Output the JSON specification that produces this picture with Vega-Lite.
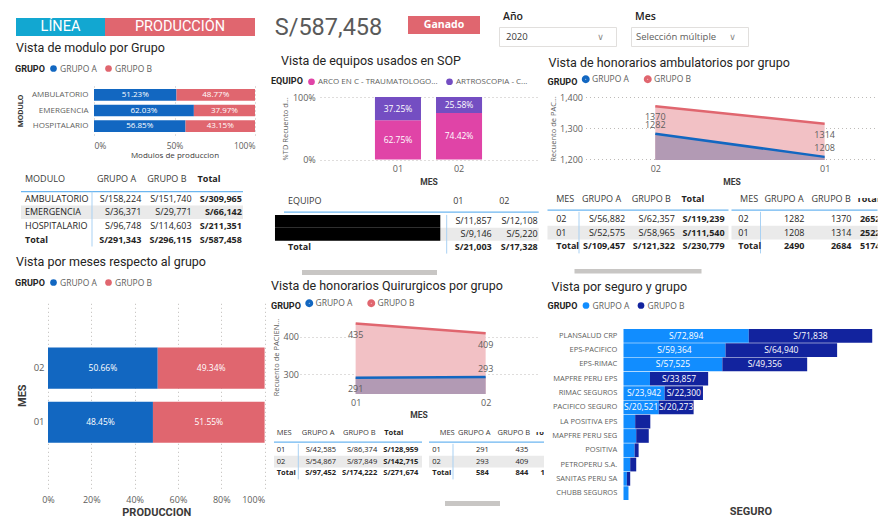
{
"$schema": "https://vega.github.io/schema/vega-lite/v6.json",
"background": "#FFFFFF",
"padding": {"left": 15, "top": 8, "right": 0, "bottom": 0},
"spacing": 6,
"resolve": {"scale": {"color": "independent"}},
"config": {
 "view": {"stroke": null},
 "font": "Open Sans",
 "locale": {"number": {"decimal": ".", "thousands": ",", "grouping": [3], "currency": ["S/", ""]}},
 "axis": {"labelFont": "Open Sans", "labelColor": "#605E5C", "labelFontSize": 8.5, "titleFont": "Open Sans", "titleColor": "#605E5C", "titleFontSize": 8, "titleFontWeight": "normal", "domain": false, "ticks": false, "tickSize": 0, "grid": false, "gridColor": "#BEBBB8", "gridDash": [1, 3]},
 "title": {"anchor": "start", "font": "Roboto", "fontSize": 12.5, "fontWeight": "normal", "color": "#252423"},
 "legend": {"orient": "top", "direction": "horizontal", "titleOrient": "left", "titleFont": "Roboto", "titleFontSize": 9, "titleFontWeight": "bold", "titleColor": "#252423", "labelFont": "Open Sans", "labelFontSize": 8.5, "labelColor": "#605E5C", "symbolType": "circle", "symbolSize": 45, "columnPadding": 7, "labelOffset": 2, "titlePadding": 4, "labelLimit": 300},
 "text": {"font": "Open Sans"}
},
"hconcat": [
 {"spacing": 0, "resolve": {"scale": {"color": "independent"}}, "vconcat": [
  {"width": 1, "height": 10, "data": {"values": []}, "mark": "text", "encoding": {"text": {"value": ""}}},
  {"spacing": 0, "hconcat": [
   {"width": 1, "height": 1, "data": {"values": []}, "mark": "text", "encoding": {"text": {"value": ""}}},
   {"width": 89, "height": 18, "view": {"fill": "#12A7D1"}, "data": {"values": [{"t": "LÍNEA"}]}, "mark": {"type": "text", "font": "Roboto", "fontSize": 14.5, "color": "#FFFFFF"}, "encoding": {"text": {"field": "t", "type": "nominal"}}},
   {"width": 150, "height": 18, "view": {"fill": "#E0666F"}, "data": {"values": [{"t": "PRODUCCIÓN"}]}, "mark": {"type": "text", "font": "Roboto", "fontSize": 14.5, "color": "#FFFFFF"}, "encoding": {"text": {"field": "t", "type": "nominal"}}}
  ]},
  {"width": 1, "height": 6, "data": {"values": []}, "mark": "text", "encoding": {"text": {"value": ""}}},
  {"title": {"text": "Vista de modulo por Grupo", "offset": 9.5, "dx": 1}, "spacing": 0, "hconcat": [
   {"width": 1, "height": 1, "data": {"values": []}, "mark": "text", "encoding": {"text": {"value": ""}}},
   {
   "width": 161, "height": 49,
   "data": {"values": [
    {"MODULO": "AMBULATORIO", "GRUPO": "GRUPO A", "p": 0.5123},
    {"MODULO": "AMBULATORIO", "GRUPO": "GRUPO B", "p": 0.4877},
    {"MODULO": "EMERGENCIA", "GRUPO": "GRUPO A", "p": 0.6203},
    {"MODULO": "EMERGENCIA", "GRUPO": "GRUPO B", "p": 0.3797},
    {"MODULO": "HOSPITALARIO", "GRUPO": "GRUPO A", "p": 0.5685},
    {"MODULO": "HOSPITALARIO", "GRUPO": "GRUPO B", "p": 0.4315}
   ]},
   "layer": [
    {"mark": {"type": "bar"},
     "encoding": {
      "y": {"field": "MODULO", "type": "nominal", "sort": ["AMBULATORIO", "EMERGENCIA", "HOSPITALARIO"], "title": "MODULO", "scale": {"paddingInner": 0.26, "paddingOuter": 0.2}, "axis": {"labelPadding": 6, "titlePadding": 7, "labelFontSize": 8, "titleFont": "Roboto", "titleFontWeight": "bold", "titleFontSize": 8, "titleColor": "#3B3A39"}},
      "x": {"field": "p", "type": "quantitative", "stack": "zero", "title": "Modulos de produccion", "scale": {"domain": [0, 1], "nice": false}, "axis": {"format": "%", "values": [0, 0.5, 1], "grid": true, "labelPadding": 6, "titlePadding": 2, "labelFontSize": 8.5, "titleFontSize": 8, "titleColor": "#3B3A39"}},
      "color": {"field": "GRUPO", "type": "nominal", "scale": {"domain": ["GRUPO A", "GRUPO B"], "range": ["#1267C1", "#E0666F"]}, "legend": {"title": "GRUPO", "offset": 12}},
      "order": {"field": "GRUPO", "type": "nominal", "sort": "ascending"}
     }},
    {"transform": [
      {"stack": "p", "groupby": ["MODULO"], "sort": [{"field": "GRUPO", "order": "ascending"}], "as": ["p0", "p1"]},
      {"fold": ["p0", "p1"], "as": ["k", "pv"]},
      {"aggregate": [{"op": "mean", "field": "pv", "as": "pm"}], "groupby": ["MODULO", "GRUPO", "p"]}
     ],
     "mark": {"type": "text", "color": "#FFFFFF", "fontSize": 8},
     "encoding": {
      "y": {"field": "MODULO", "type": "nominal", "sort": ["AMBULATORIO", "EMERGENCIA", "HOSPITALARIO"], "title": "MODULO"},
      "x": {"field": "pm", "type": "quantitative", "title": "Modulos de produccion", "scale": {"domain": [0, 1], "nice": false}},
      "text": {"field": "p", "type": "quantitative", "format": ".2%"}
     }}
   ]
  }]},
  {"width": 1, "height": 13.5, "data": {"values": []}, "mark": "text", "encoding": {"text": {"value": ""}}},
  {"spacing": 0, "hconcat": [
   {"width": 5, "height": 1, "data": {"values": []}, "mark": "text", "encoding": {"text": {"value": ""}}},
   {
    "width": 222, "height": 68.5,
    "data": {"values": [
     {"f": "h", "c": "MODULO", "t": "MODULO"}, {"f": "h", "c": "GRUPO A", "t": "GRUPO A"}, {"f": "h", "c": "GRUPO B", "t": "GRUPO B"}, {"f": "h", "c": "Total", "t": "Total"},
     {"f": "AMBULATORIO", "c": "MODULO", "t": "AMBULATORIO"}, {"f": "AMBULATORIO", "c": "GRUPO A", "t": "S/158,224"}, {"f": "AMBULATORIO", "c": "GRUPO B", "t": "S/151,740"}, {"f": "AMBULATORIO", "c": "Total", "t": "S/309,965"},
     {"f": "EMERGENCIA", "c": "MODULO", "t": "EMERGENCIA"}, {"f": "EMERGENCIA", "c": "GRUPO A", "t": "S/36,371"}, {"f": "EMERGENCIA", "c": "GRUPO B", "t": "S/29,771"}, {"f": "EMERGENCIA", "c": "Total", "t": "S/66,142"},
     {"f": "HOSPITALARIO", "c": "MODULO", "t": "HOSPITALARIO"}, {"f": "HOSPITALARIO", "c": "GRUPO A", "t": "S/96,748"}, {"f": "HOSPITALARIO", "c": "GRUPO B", "t": "S/114,603"}, {"f": "HOSPITALARIO", "c": "Total", "t": "S/211,351"},
     {"f": "Total", "c": "MODULO", "t": "Total"}, {"f": "Total", "c": "GRUPO A", "t": "S/291,343"}, {"f": "Total", "c": "GRUPO B", "t": "S/296,115"}, {"f": "Total", "c": "Total", "t": "S/587,458"}
    ]},
    "layer": [
     {"transform": [{"filter": "datum.f == 'EMERGENCIA' && datum.c == 'MODULO'"}], "mark": {"type": "rect", "color": "#EAEAEA"},
      "encoding": {"y": {"field": "f", "type": "nominal", "scale": {"domain": ["h", "AMBULATORIO", "EMERGENCIA", "HOSPITALARIO", "Total"], "paddingInner": 0, "paddingOuter": 0}, "axis": null}}},
     {"transform": [{"filter": "datum.f == 'h' && datum.c == 'MODULO'"}], "mark": {"type": "rule", "color": "#6CB6F0", "strokeWidth": 1.2},
      "encoding": {"y": {"field": "f", "type": "nominal", "bandPosition": 1, "scale": {"domain": ["h", "AMBULATORIO", "EMERGENCIA", "HOSPITALARIO", "Total"], "paddingInner": 0, "paddingOuter": 0}, "axis": null}}},
     {"transform": [{"filter": "datum.f == 'h' && datum.c == 'MODULO'"}], "mark": {"type": "rule", "color": "#A9D1F3", "strokeWidth": 1},
      "encoding": {
       "x": {"datum": "GRUPO A", "type": "nominal", "bandPosition": 0, "scale": {"domain": ["GRUPO A", "GRUPO B", "Total"], "range": [71, 221.9], "paddingInner": 0, "paddingOuter": 0}, "axis": null},
       "y": {"datum": "AMBULATORIO", "type": "nominal", "bandPosition": 0, "scale": {"domain": ["h", "AMBULATORIO", "EMERGENCIA", "HOSPITALARIO", "Total"], "paddingInner": 0, "paddingOuter": 0}, "axis": null},
       "y2": {"datum": "Total", "bandPosition": 1}}},
     {"transform": [{"filter": "datum.f == 'h' && datum.c == 'MODULO'"}], "mark": {"type": "text", "align": "left", "dx": -67, "dy": -6, "fontSize": 9, "color": "#3B3A39"},
      "encoding": {
       "x": {"datum": "GRUPO A", "type": "nominal", "bandPosition": 0, "scale": {"domain": ["GRUPO A", "GRUPO B", "Total"], "range": [71, 221.9], "paddingInner": 0, "paddingOuter": 0}, "axis": null},
       "y": {"field": "f", "type": "nominal", "scale": {"domain": ["h", "AMBULATORIO", "EMERGENCIA", "HOSPITALARIO", "Total"], "paddingInner": 0, "paddingOuter": 0}, "axis": null},
       "text": {"field": "t"}}},
     {"transform": [{"filter": "datum.f == 'h' && datum.c != 'MODULO' && datum.c != 'Total'"}], "mark": {"type": "text", "align": "left", "dx": 5, "dy": -6, "fontSize": 9, "color": "#3B3A39"},
      "encoding": {
       "x": {"field": "c", "type": "nominal", "bandPosition": 0, "scale": {"domain": ["GRUPO A", "GRUPO B", "Total"], "range": [71, 221.9], "paddingInner": 0, "paddingOuter": 0}, "axis": null},
       "y": {"field": "f", "type": "nominal", "scale": {"domain": ["h", "AMBULATORIO", "EMERGENCIA", "HOSPITALARIO", "Total"], "paddingInner": 0, "paddingOuter": 0}, "axis": null},
       "text": {"field": "t"}}},
     {"transform": [{"filter": "datum.f == 'h' && datum.c == 'Total'"}], "mark": {"type": "text", "align": "left", "dx": 5, "dy": -6, "fontSize": 9, "fontWeight": "bold", "color": "#252423"},
      "encoding": {
       "x": {"field": "c", "type": "nominal", "bandPosition": 0, "scale": {"domain": ["GRUPO A", "GRUPO B", "Total"], "range": [71, 221.9], "paddingInner": 0, "paddingOuter": 0}, "axis": null},
       "y": {"field": "f", "type": "nominal", "scale": {"domain": ["h", "AMBULATORIO", "EMERGENCIA", "HOSPITALARIO", "Total"], "paddingInner": 0, "paddingOuter": 0}, "axis": null},
       "text": {"field": "t"}}},
     {"transform": [{"filter": "datum.f != 'h' && datum.f != 'Total' && datum.c == 'MODULO'"}], "mark": {"type": "text", "align": "left", "dx": -67, "fontSize": 9, "color": "#252423"},
      "encoding": {
       "x": {"datum": "GRUPO A", "type": "nominal", "bandPosition": 0, "scale": {"domain": ["GRUPO A", "GRUPO B", "Total"], "range": [71, 221.9], "paddingInner": 0, "paddingOuter": 0}, "axis": null},
       "y": {"field": "f", "type": "nominal", "scale": {"domain": ["h", "AMBULATORIO", "EMERGENCIA", "HOSPITALARIO", "Total"], "paddingInner": 0, "paddingOuter": 0}, "axis": null},
       "text": {"field": "t"}}},
     {"transform": [{"filter": "datum.f == 'Total' && datum.c == 'MODULO'"}], "mark": {"type": "text", "align": "left", "dx": -67, "fontSize": 9, "fontWeight": "bold", "color": "#252423"},
      "encoding": {
       "x": {"datum": "GRUPO A", "type": "nominal", "bandPosition": 0, "scale": {"domain": ["GRUPO A", "GRUPO B", "Total"], "range": [71, 221.9], "paddingInner": 0, "paddingOuter": 0}, "axis": null},
       "y": {"field": "f", "type": "nominal", "scale": {"domain": ["h", "AMBULATORIO", "EMERGENCIA", "HOSPITALARIO", "Total"], "paddingInner": 0, "paddingOuter": 0}, "axis": null},
       "text": {"field": "t"}}},
     {"transform": [{"filter": "datum.f != 'h' && datum.f != 'Total' && datum.c != 'MODULO' && datum.c != 'Total'"}], "mark": {"type": "text", "align": "right", "dx": -1, "fontSize": 9, "color": "#252423"},
      "encoding": {
       "x": {"field": "c", "type": "nominal", "bandPosition": 1, "scale": {"domain": ["GRUPO A", "GRUPO B", "Total"], "range": [71, 221.9], "paddingInner": 0, "paddingOuter": 0}, "axis": null},
       "y": {"field": "f", "type": "nominal", "scale": {"domain": ["h", "AMBULATORIO", "EMERGENCIA", "HOSPITALARIO", "Total"], "paddingInner": 0, "paddingOuter": 0}, "axis": null},
       "text": {"field": "t"}}},
     {"transform": [{"filter": "datum.f != 'h' && datum.c != 'MODULO' && (datum.f == 'Total' || datum.c == 'Total')"}], "mark": {"type": "text", "align": "right", "dx": -1, "fontSize": 9, "fontWeight": "bold", "color": "#252423"},
      "encoding": {
       "x": {"field": "c", "type": "nominal", "bandPosition": 1, "scale": {"domain": ["GRUPO A", "GRUPO B", "Total"], "range": [71, 221.9], "paddingInner": 0, "paddingOuter": 0}, "axis": null},
       "y": {"field": "f", "type": "nominal", "scale": {"domain": ["h", "AMBULATORIO", "EMERGENCIA", "HOSPITALARIO", "Total"], "paddingInner": 0, "paddingOuter": 0}, "axis": null},
       "text": {"field": "t"}}}
    ]
   }
  ]},
  {"width": 1, "height": 7.6, "data": {"values": []}, "mark": "text", "encoding": {"text": {"value": ""}}},
  {"title": {"text": "Vista por meses respecto al grupo", "offset": 10, "dx": 1}, "spacing": 0, "hconcat": [
   {"width": 1, "height": 1, "data": {"values": []}, "mark": "text", "encoding": {"text": {"value": ""}}},
   {
   "width": 216.6, "height": 186.3,
   "data": {"values": [
    {"MES": "02", "GRUPO": "GRUPO A", "p": 0.5066}, {"MES": "02", "GRUPO": "GRUPO B", "p": 0.4934},
    {"MES": "01", "GRUPO": "GRUPO A", "p": 0.4845}, {"MES": "01", "GRUPO": "GRUPO B", "p": 0.5155}
   ]},
   "layer": [
    {"mark": {"type": "bar"},
     "encoding": {
      "y": {"field": "MES", "type": "nominal", "sort": ["02", "01"], "title": "MES", "scale": {"paddingInner": 0.24, "paddingOuter": 0.84}, "axis": {"labelPadding": 4, "titlePadding": 6, "labelFontSize": 9.5, "titleFont": "Roboto", "titleFontSize": 11, "titleFontWeight": "bold", "titleColor": "#3B3A39"}},
      "x": {"field": "p", "type": "quantitative", "stack": "zero", "title": "PRODUCCION", "scale": {"domain": [0, 1], "nice": false}, "axis": {"format": "%", "values": [0, 0.2, 0.4, 0.6, 0.8, 1], "grid": true, "labelPadding": 6.8, "titlePadding": 2, "labelFontSize": 9, "titleFont": "Roboto", "titleFontSize": 11, "titleFontWeight": "bold", "titleColor": "#3B3A39", "labelAlign": {"condition": {"test": "datum.value == 1", "value": "right"}, "value": "center"}}},
      "color": {"field": "GRUPO", "type": "nominal", "scale": {"domain": ["GRUPO A", "GRUPO B"], "range": ["#1267C1", "#E0666F"]}, "legend": {"title": "GRUPO", "offset": 14.4}},
      "order": {"field": "GRUPO", "type": "nominal", "sort": "ascending"}
     }},
    {"transform": [
      {"stack": "p", "groupby": ["MES"], "sort": [{"field": "GRUPO", "order": "ascending"}], "as": ["p0", "p1"]},
      {"fold": ["p0", "p1"], "as": ["k", "pv"]},
      {"aggregate": [{"op": "mean", "field": "pv", "as": "pm"}], "groupby": ["MES", "GRUPO", "p"]}
     ],
     "mark": {"type": "text", "color": "#FFFFFF", "fontSize": 8.5},
     "encoding": {
      "y": {"field": "MES", "type": "nominal", "sort": ["02", "01"], "title": "MES"},
      "x": {"field": "pm", "type": "quantitative", "title": "PRODUCCION", "scale": {"domain": [0, 1], "nice": false}},
      "text": {"field": "p", "type": "quantitative", "format": ".2%"}
     }}
   ]
  }]}
 ]},
 {"spacing": 0, "resolve": {"scale": {"color": "independent"}}, "vconcat": [
  {"spacing": 0, "hconcat": [
   {"width": 115, "height": 40, "data": {"values": [{"v": 587458}]}, "mark": {"type": "text", "font": "Roboto", "fontSize": 23.5, "color": "#5A5A5A"}, "encoding": {"text": {"field": "v", "type": "quantitative", "format": "$,.0f"}}},
   {"width": 22, "height": 1, "data": {"values": []}, "mark": "text", "encoding": {"text": {"value": ""}}},
   {"spacing": 0, "vconcat": [
    {"width": 1, "height": 8, "data": {"values": []}, "mark": "text", "encoding": {"text": {"value": ""}}},
    {"width": 72, "height": 18, "view": {"fill": "#E0666F"}, "data": {"values": [{"t": "Ganado"}]}, "mark": {"type": "text", "color": "#FFFFFF", "fontSize": 10.5, "fontWeight": "bold", "font": "Open Sans"}, "encoding": {"text": {"field": "t", "type": "nominal"}}}
   ]},
   {"width": 18, "height": 1, "data": {"values": []}, "mark": "text", "encoding": {"text": {"value": ""}}},
   {"spacing": 0, "vconcat": [
    {"width": 1, "height": 3, "data": {"values": []}, "mark": "text", "encoding": {"text": {"value": ""}}},
    {"title": {"text": "Año", "font": "Open Sans", "fontSize": 10.5, "fontWeight": 600, "color": "#252423", "offset": 5, "dx": 4},
    "width": 117, "height": 19, "view": {"stroke": "#E1DFDD", "fill": "#FFFFFF"},
    "data": {"values": [{"k": "valor", "t": "2020"}, {"k": "flecha", "t": "∨"}]},
    "layer": [
     {"transform": [{"filter": "datum.k == 'valor'"}], "mark": {"type": "text", "align": "left", "dx": -51.5, "fontSize": 9.5, "color": "#3B3A39"}, "encoding": {"text": {"field": "t", "type": "nominal"}}},
     {"transform": [{"filter": "datum.k == 'flecha'"}], "mark": {"type": "text", "dx": 43, "fontSize": 9, "font": "DejaVu Sans", "color": "#8A8886"}, "encoding": {"text": {"field": "t", "type": "nominal"}}}
    ]}]},
   {"width": 13, "height": 1, "data": {"values": []}, "mark": "text", "encoding": {"text": {"value": ""}}},
   {"spacing": 0, "vconcat": [
    {"width": 1, "height": 3, "data": {"values": []}, "mark": "text", "encoding": {"text": {"value": ""}}},
    {"title": {"text": "Mes", "font": "Open Sans", "fontSize": 10.5, "fontWeight": 600, "color": "#252423", "offset": 5, "dx": 4},
    "width": 117, "height": 19, "view": {"stroke": "#E1DFDD", "fill": "#FFFFFF"},
    "data": {"values": [{"k": "valor", "t": "Selección múltiple"}, {"k": "flecha", "t": "∨"}]},
    "layer": [
     {"transform": [{"filter": "datum.k == 'valor'"}], "mark": {"type": "text", "align": "left", "dx": -53.5, "fontSize": 9.5, "color": "#605E5C"}, "encoding": {"text": {"field": "t", "type": "nominal"}}},
     {"transform": [{"filter": "datum.k == 'flecha'"}], "mark": {"type": "text", "dx": 43, "fontSize": 9, "font": "DejaVu Sans", "color": "#8A8886"}, "encoding": {"text": {"field": "t", "type": "nominal"}}}
    ]}]}
  ]},
  {"width": 1, "height": 6.9, "data": {"values": []}, "mark": "text", "encoding": {"text": {"value": ""}}},
  {"spacing": 1.5, "resolve": {"scale": {"color": "independent"}}, "hconcat": [
   {"spacing": 0, "resolve": {"scale": {"color": "independent"}}, "vconcat": [
    {"title": {"text": "Vista de equipos usados en SOP", "offset": 9.5, "dx": 10}, "spacing": 0, "hconcat": [
     {"width": 10, "height": 1, "data": {"values": []}, "mark": "text", "encoding": {"text": {"value": ""}}},
     {"hconcat": [{
      "width": 217, "height": 62.6,
      "data": {"values": [
       {"MES": "01", "EQUIPO": "ARCO EN C - TRAUMATOLOGO...", "p": 0.6275},
       {"MES": "01", "EQUIPO": "ARTROSCOPIA - C...", "p": 0.3725},
       {"MES": "02", "EQUIPO": "ARCO EN C - TRAUMATOLOGO...", "p": 0.7442},
       {"MES": "02", "EQUIPO": "ARTROSCOPIA - C...", "p": 0.2558}
      ]},
      "layer": [
       {"mark": {"type": "bar"},
        "encoding": {
         "x": {"field": "MES", "type": "nominal", "title": "MES", "scale": {"paddingInner": 0.246, "paddingOuter": 0.9}, "axis": {"labelAngle": 0, "labelPadding": 4.7, "titlePadding": 4, "labelFontSize": 9, "titleFont": "Roboto", "titleFontWeight": "bold", "titleFontSize": 8.5, "titleColor": "#3B3A39"}},
         "y": {"field": "p", "type": "quantitative", "stack": "zero", "title": "%TD Recuento d...", "scale": {"domain": [0, 1], "nice": false}, "axis": {"format": "%", "values": [0, 0.5, 1], "grid": true, "labelPadding": 4.7, "titlePadding": 3, "labelFontSize": 9, "titleFontSize": 7.5}},
         "color": {"field": "EQUIPO", "type": "nominal", "scale": {"domain": ["ARCO EN C - TRAUMATOLOGO...", "ARTROSCOPIA - C..."], "range": ["#E044A7", "#744EC2"]}, "legend": {"title": "EQUIPO", "offset": 6.8, "labelFontSize": 8}},
         "order": {"field": "EQUIPO", "type": "nominal", "sort": "ascending"}
        }},
       {"transform": [
         {"stack": "p", "groupby": ["MES"], "sort": [{"field": "EQUIPO", "order": "ascending"}], "as": ["p0", "p1"]},
         {"fold": ["p0", "p1"], "as": ["k", "pv"]},
         {"aggregate": [{"op": "mean", "field": "pv", "as": "pm"}], "groupby": ["MES", "EQUIPO", "p"]}
        ],
        "mark": {"type": "text", "color": "#FFFFFF", "fontSize": 8.5},
        "encoding": {
         "x": {"field": "MES", "type": "nominal", "title": "MES"},
         "y": {"field": "pm", "type": "quantitative", "title": "%TD Recuento d...", "scale": {"domain": [0, 1], "nice": false}},
         "text": {"field": "p", "type": "quantitative", "format": ".2%"}
        }}
      ]
     }]}
    ]},
    {"width": 1, "height": 10, "data": {"values": []}, "mark": "text", "encoding": {"text": {"value": ""}}},
    {"spacing": 0, "hconcat": [
     {"width": 3, "height": 1, "data": {"values": []}, "mark": "text", "encoding": {"text": {"value": ""}}},
     {
      "width": 254.7, "height": 51.6,
      "data": {"values": [
       {"f": "h", "c": "EQUIPO", "t": "EQUIPO"}, {"f": "h", "c": "01", "t": "01"}, {"f": "h", "c": "02", "t": "02"},
       {"f": "r1", "c": "EQUIPO", "t": ""}, {"f": "r1", "c": "01", "t": "S/11,857"}, {"f": "r1", "c": "02", "t": "S/12,108"},
       {"f": "r2", "c": "EQUIPO", "t": ""}, {"f": "r2", "c": "01", "t": "S/9,146"}, {"f": "r2", "c": "02", "t": "S/5,220"},
       {"f": "Total", "c": "EQUIPO", "t": "Total"}, {"f": "Total", "c": "01", "t": "S/21,003"}, {"f": "Total", "c": "02", "t": "S/17,328"}
      ]},
      "layer": [
       {"transform": [{"filter": "datum.f == 'r2' && datum.c == 'EQUIPO'"}], "mark": {"type": "rect", "color": "#EAEAEA"},
        "encoding": {"y": {"field": "f", "type": "nominal", "scale": {"domain": ["h", "r1", "r2", "Total"], "paddingInner": 0, "paddingOuter": 0}, "axis": null}}},
       {"transform": [{"filter": "datum.f == 'h' && datum.c == 'EQUIPO'"}], "mark": {"type": "rule", "color": "#6CB6F0", "strokeWidth": 1.2},
        "encoding": {"y": {"field": "f", "type": "nominal", "bandPosition": 0.78, "scale": {"domain": ["h", "r1", "r2", "Total"], "paddingInner": 0, "paddingOuter": 0}, "axis": null}}},
       {"transform": [{"filter": "datum.f == 'h' && datum.c == 'EQUIPO'"}], "mark": {"type": "rule", "color": "#A9D1F3", "strokeWidth": 1},
        "encoding": {
         "x": {"datum": "01", "type": "nominal", "bandPosition": 0, "scale": {"domain": ["01", "02"], "range": [162.7, 254.7], "paddingInner": 0, "paddingOuter": 0}, "axis": null},
         "y": {"datum": "r1", "type": "nominal", "bandPosition": 0, "scale": {"domain": ["h", "r1", "r2", "Total"], "paddingInner": 0, "paddingOuter": 0}, "axis": null},
         "y2": {"datum": "Total", "bandPosition": 1}}},
       {"transform": [{"filter": "(datum.f == 'r1' || datum.f == 'r2') && datum.c == 'EQUIPO'"}], "mark": {"type": "rect", "color": "#000000", "x2Offset": -29.4},
        "encoding": {
         "x": {"datum": "01", "type": "nominal", "bandPosition": -3.733, "scale": {"domain": ["01", "02"], "range": [162.7, 254.7], "paddingInner": 0, "paddingOuter": 0}, "axis": null},
         "x2": {"datum": "01"},
         "y": {"field": "f", "type": "nominal", "scale": {"domain": ["h", "r1", "r2", "Total"], "paddingInner": 0, "paddingOuter": 0}, "axis": null}}},
       {"transform": [{"filter": "datum.f == 'h' && datum.c == 'EQUIPO'"}], "mark": {"type": "text", "align": "left", "dx": -158.7, "dy": -7.8, "fontSize": 9, "color": "#3B3A39"},
        "encoding": {
         "x": {"datum": "01", "type": "nominal", "bandPosition": 0, "scale": {"domain": ["01", "02"], "range": [162.7, 254.7], "paddingInner": 0, "paddingOuter": 0}, "axis": null},
         "y": {"field": "f", "type": "nominal", "scale": {"domain": ["h", "r1", "r2", "Total"], "paddingInner": 0, "paddingOuter": 0}, "axis": null},
         "text": {"field": "t"}}},
       {"transform": [{"filter": "datum.f == 'h' && datum.c != 'EQUIPO'"}], "mark": {"type": "text", "align": "left", "dx": 6.5, "dy": -7.8, "fontSize": 9, "color": "#3B3A39"},
        "encoding": {
         "x": {"field": "c", "type": "nominal", "bandPosition": 0, "scale": {"domain": ["01", "02"], "range": [162.7, 254.7], "paddingInner": 0, "paddingOuter": 0}, "axis": null},
         "y": {"field": "f", "type": "nominal", "scale": {"domain": ["h", "r1", "r2", "Total"], "paddingInner": 0, "paddingOuter": 0}, "axis": null},
         "text": {"field": "t"}}},
       {"transform": [{"filter": "datum.f == 'Total' && datum.c == 'EQUIPO'"}], "mark": {"type": "text", "align": "left", "dx": -158.7, "fontSize": 9, "fontWeight": "bold", "color": "#252423"},
        "encoding": {
         "x": {"datum": "01", "type": "nominal", "bandPosition": 0, "scale": {"domain": ["01", "02"], "range": [162.7, 254.7], "paddingInner": 0, "paddingOuter": 0}, "axis": null},
         "y": {"field": "f", "type": "nominal", "scale": {"domain": ["h", "r1", "r2", "Total"], "paddingInner": 0, "paddingOuter": 0}, "axis": null},
         "text": {"field": "t"}}},
       {"transform": [{"filter": "datum.f != 'h' && datum.f != 'Total' && datum.c != 'EQUIPO'"}], "mark": {"type": "text", "align": "right", "dx": -1, "fontSize": 9, "color": "#252423"},
        "encoding": {
         "x": {"field": "c", "type": "nominal", "bandPosition": 1, "scale": {"domain": ["01", "02"], "range": [162.7, 254.7], "paddingInner": 0, "paddingOuter": 0}, "axis": null},
         "y": {"field": "f", "type": "nominal", "scale": {"domain": ["h", "r1", "r2", "Total"], "paddingInner": 0, "paddingOuter": 0}, "axis": null},
         "text": {"field": "t"}}},
       {"transform": [{"filter": "datum.f == 'Total' && datum.c != 'EQUIPO'"}], "mark": {"type": "text", "align": "right", "dx": -1, "fontSize": 9, "fontWeight": "bold", "color": "#252423"},
        "encoding": {
         "x": {"field": "c", "type": "nominal", "bandPosition": 1, "scale": {"domain": ["01", "02"], "range": [162.7, 254.7], "paddingInner": 0, "paddingOuter": 0}, "axis": null},
         "y": {"field": "f", "type": "nominal", "scale": {"domain": ["h", "r1", "r2", "Total"], "paddingInner": 0, "paddingOuter": 0}, "axis": null},
         "text": {"field": "t"}}}
      ]
     }
    ]},
    {"width": 1, "height": 14.5, "data": {"values": []}, "mark": "text", "encoding": {"text": {"value": ""}}},
    {"spacing": 0, "hconcat": [
     {"width": 31, "height": 1, "data": {"values": []}, "mark": "text", "encoding": {"text": {"value": ""}}},
     {"width": 135, "height": 5, "view": {"fill": "#C8C6C4"}, "data": {"values": []}, "mark": "text", "encoding": {"text": {"value": ""}}}
    ]},
    {"width": 1, "height": 3.75, "data": {"values": []}, "mark": "text", "encoding": {"text": {"value": ""}}},
    {"title": {"text": "Vista de honorarios Quirurgicos por grupo", "offset": 6.8}, "spacing": 0, "hconcat": [
     {"width": 1, "height": 1, "data": {"values": []}, "mark": "text", "encoding": {"text": {"value": ""}}},
     {
     "width": 237, "height": 74,
     "data": {"values": [
      {"MES": "01", "GRUPO": "GRUPO A", "n": 291}, {"MES": "02", "GRUPO": "GRUPO A", "n": 293},
      {"MES": "01", "GRUPO": "GRUPO B", "n": 435}, {"MES": "02", "GRUPO": "GRUPO B", "n": 409}
     ]},
     "encoding": {
      "x": {"field": "MES", "type": "ordinal", "sort": ["01", "02"], "title": "MES", "scale": {"type": "point", "padding": 0.4115, "align": 0.52}, "axis": {"labelAngle": 0, "labelPadding": 4, "titlePadding": 3.5, "labelFontSize": 9, "titleFont": "Roboto", "titleFontWeight": "bold", "titleFontSize": 8.5, "titleColor": "#3B3A39"}},
      "y": {"field": "n", "type": "quantitative", "title": "Recuento de PACIEN...", "scale": {"domain": [247.6, 444], "nice": false, "zero": false}, "axis": {"values": [300, 400], "format": "d", "grid": true, "labelPadding": 1.5, "titlePadding": 2.5, "labelFontSize": 9, "titleFontSize": 7.5}}
     },
     "layer": [
      {"transform": [{"filter": "datum.GRUPO == 'GRUPO B'"}], "mark": {"type": "area", "color": "#F2C1C5", "opacity": 1}, "encoding": {"y2": {"datum": 247.6}}},
      {"transform": [{"filter": "datum.GRUPO == 'GRUPO A'"}], "mark": {"type": "area", "color": "#B29AB4", "opacity": 1}, "encoding": {"y2": {"datum": 247.6}}},
      {"mark": {"type": "line", "strokeWidth": 2.5},
       "encoding": {"color": {"field": "GRUPO", "type": "nominal", "scale": {"domain": ["GRUPO A", "GRUPO B"], "range": ["#1267C1", "#E0666F"]}, "legend": {"title": "GRUPO", "offset": 3.7, "symbolSize": 12, "symbolStrokeWidth": 4.5}}}},
      {"transform": [{"filter": "datum.GRUPO == 'GRUPO B' || datum.MES == '01'"}], "mark": {"type": "text", "dy": 11.5, "fontSize": 9, "color": "#605E5C"}, "encoding": {"text": {"field": "n", "type": "quantitative", "format": "d"}}},
      {"transform": [{"filter": "datum.GRUPO == 'GRUPO A' && datum.MES == '02'"}], "mark": {"type": "text", "dy": -8, "fontSize": 9, "color": "#605E5C"}, "encoding": {"text": {"field": "n", "type": "quantitative", "format": "d"}}}
     ]
    }]},
    {"width": 1, "height": 8.9, "data": {"values": []}, "mark": "text", "encoding": {"text": {"value": ""}}},
    {"spacing": 0, "hconcat": [
     {"width": 2, "height": 1, "data": {"values": []}, "mark": "text", "encoding": {"text": {"value": ""}}},
     {
      "width": 148, "height": 47.4,
      "data": {"values": [
       {"f": "h", "c": "MES", "t": "MES"}, {"f": "h", "c": "GRUPO A", "t": "GRUPO A"}, {"f": "h", "c": "GRUPO B", "t": "GRUPO B"}, {"f": "h", "c": "Total", "t": "Total"},
       {"f": "01", "c": "MES", "t": "01"}, {"f": "01", "c": "GRUPO A", "t": "S/42,585"}, {"f": "01", "c": "GRUPO B", "t": "S/86,374"}, {"f": "01", "c": "Total", "t": "S/128,959"},
       {"f": "02", "c": "MES", "t": "02"}, {"f": "02", "c": "GRUPO A", "t": "S/54,867"}, {"f": "02", "c": "GRUPO B", "t": "S/87,849"}, {"f": "02", "c": "Total", "t": "S/142,715"},
       {"f": "Total", "c": "MES", "t": "Total"}, {"f": "Total", "c": "GRUPO A", "t": "S/97,452"}, {"f": "Total", "c": "GRUPO B", "t": "S/174,222"}, {"f": "Total", "c": "Total", "t": "S/271,674"}
      ]},
      "layer": [
       {"transform": [{"filter": "datum.f == '02' && datum.c == 'MES'"}], "mark": {"type": "rect", "color": "#EAEAEA"},
        "encoding": {"y": {"field": "f", "type": "nominal", "scale": {"domain": ["h", "01", "02", "Total"], "paddingInner": 0, "paddingOuter": 0}, "axis": null}}},
       {"transform": [{"filter": "datum.f == 'h' && datum.c == 'MES'"}], "mark": {"type": "rule", "color": "#6CB6F0", "strokeWidth": 1.2},
        "encoding": {"y": {"field": "f", "type": "nominal", "bandPosition": 0.86, "scale": {"domain": ["h", "01", "02", "Total"], "paddingInner": 0, "paddingOuter": 0}, "axis": null}}},
       {"transform": [{"filter": "datum.f == 'h' && datum.c == 'MES'"}], "mark": {"type": "rule", "color": "#A9D1F3", "strokeWidth": 1},
        "encoding": {
         "x": {"datum": "GRUPO A", "type": "nominal", "bandPosition": 0, "scale": {"domain": ["GRUPO A", "GRUPO B", "Total"], "range": [24.3, 147.9], "paddingInner": 0, "paddingOuter": 0}, "axis": null},
         "y": {"datum": "01", "type": "nominal", "bandPosition": 0, "scale": {"domain": ["h", "01", "02", "Total"], "paddingInner": 0, "paddingOuter": 0}, "axis": null},
         "y2": {"datum": "Total", "bandPosition": 1}}},
       {"transform": [{"filter": "datum.f == 'h' && datum.c == 'MES'"}], "mark": {"type": "text", "align": "left", "dx": -21.6, "dy": -5.2, "fontSize": 7.5, "color": "#3B3A39"},
        "encoding": {
         "x": {"datum": "GRUPO A", "type": "nominal", "bandPosition": 0, "scale": {"domain": ["GRUPO A", "GRUPO B", "Total"], "range": [24.3, 147.9], "paddingInner": 0, "paddingOuter": 0}, "axis": null},
         "y": {"field": "f", "type": "nominal", "scale": {"domain": ["h", "01", "02", "Total"], "paddingInner": 0, "paddingOuter": 0}, "axis": null},
         "text": {"field": "t"}}},
       {"transform": [{"filter": "datum.f == 'h' && datum.c != 'MES' && datum.c != 'Total'"}], "mark": {"type": "text", "align": "left", "dx": 3.5, "dy": -5.2, "fontSize": 7.5, "color": "#3B3A39"},
        "encoding": {
         "x": {"field": "c", "type": "nominal", "bandPosition": 0, "scale": {"domain": ["GRUPO A", "GRUPO B", "Total"], "range": [24.3, 147.9], "paddingInner": 0, "paddingOuter": 0}, "axis": null},
         "y": {"field": "f", "type": "nominal", "scale": {"domain": ["h", "01", "02", "Total"], "paddingInner": 0, "paddingOuter": 0}, "axis": null},
         "text": {"field": "t"}}},
       {"transform": [{"filter": "datum.f == 'h' && datum.c == 'Total'"}], "mark": {"type": "text", "align": "left", "dx": 3.5, "dy": -5.2, "fontSize": 7.5, "fontWeight": "bold", "color": "#252423"},
        "encoding": {
         "x": {"field": "c", "type": "nominal", "bandPosition": 0, "scale": {"domain": ["GRUPO A", "GRUPO B", "Total"], "range": [24.3, 147.9], "paddingInner": 0, "paddingOuter": 0}, "axis": null},
         "y": {"field": "f", "type": "nominal", "scale": {"domain": ["h", "01", "02", "Total"], "paddingInner": 0, "paddingOuter": 0}, "axis": null},
         "text": {"field": "t"}}},
       {"transform": [{"filter": "datum.f != 'h' && datum.f != 'Total' && datum.c == 'MES'"}], "mark": {"type": "text", "align": "left", "dx": -21.6, "fontSize": 7.5, "color": "#252423"},
        "encoding": {
         "x": {"datum": "GRUPO A", "type": "nominal", "bandPosition": 0, "scale": {"domain": ["GRUPO A", "GRUPO B", "Total"], "range": [24.3, 147.9], "paddingInner": 0, "paddingOuter": 0}, "axis": null},
         "y": {"field": "f", "type": "nominal", "scale": {"domain": ["h", "01", "02", "Total"], "paddingInner": 0, "paddingOuter": 0}, "axis": null},
         "text": {"field": "t"}}},
       {"transform": [{"filter": "datum.f == 'Total' && datum.c == 'MES'"}], "mark": {"type": "text", "align": "left", "dx": -21.6, "fontSize": 7.5, "fontWeight": "bold", "color": "#252423"},
        "encoding": {
         "x": {"datum": "GRUPO A", "type": "nominal", "bandPosition": 0, "scale": {"domain": ["GRUPO A", "GRUPO B", "Total"], "range": [24.3, 147.9], "paddingInner": 0, "paddingOuter": 0}, "axis": null},
         "y": {"field": "f", "type": "nominal", "scale": {"domain": ["h", "01", "02", "Total"], "paddingInner": 0, "paddingOuter": 0}, "axis": null},
         "text": {"field": "t"}}},
       {"transform": [{"filter": "datum.f != 'h' && datum.f != 'Total' && datum.c != 'MES' && datum.c != 'Total'"}], "mark": {"type": "text", "align": "right", "dx": -3.5, "fontSize": 7.5, "color": "#252423"},
        "encoding": {
         "x": {"field": "c", "type": "nominal", "bandPosition": 1, "scale": {"domain": ["GRUPO A", "GRUPO B", "Total"], "range": [24.3, 147.9], "paddingInner": 0, "paddingOuter": 0}, "axis": null},
         "y": {"field": "f", "type": "nominal", "scale": {"domain": ["h", "01", "02", "Total"], "paddingInner": 0, "paddingOuter": 0}, "axis": null},
         "text": {"field": "t"}}},
       {"transform": [{"filter": "datum.f != 'h' && datum.c != 'MES' && (datum.f == 'Total' || datum.c == 'Total')"}], "mark": {"type": "text", "align": "right", "dx": -3.5, "fontSize": 7.5, "fontWeight": "bold", "color": "#252423"},
        "encoding": {
         "x": {"field": "c", "type": "nominal", "bandPosition": 1, "scale": {"domain": ["GRUPO A", "GRUPO B", "Total"], "range": [24.3, 147.9], "paddingInner": 0, "paddingOuter": 0}, "axis": null},
         "y": {"field": "f", "type": "nominal", "scale": {"domain": ["h", "01", "02", "Total"], "paddingInner": 0, "paddingOuter": 0}, "axis": null},
         "text": {"field": "t"}}}
      ]
     },
     {"width": 5, "height": 1, "data": {"values": []}, "mark": "text", "encoding": {"text": {"value": ""}}},
     {
      "width": 115, "height": 47.4,
      "data": {"values": [
       {"f": "h", "c": "MES", "t": "MES"}, {"f": "h", "c": "GRUPO A", "t": "GRUPO A"}, {"f": "h", "c": "GRUPO B", "t": "GRUPO B"}, {"f": "h", "c": "Total", "t": "Total"},
       {"f": "01", "c": "MES", "t": "01"}, {"f": "01", "c": "GRUPO A", "t": "291"}, {"f": "01", "c": "GRUPO B", "t": "435"}, {"f": "01", "c": "Total", "t": "726"},
       {"f": "02", "c": "MES", "t": "02"}, {"f": "02", "c": "GRUPO A", "t": "293"}, {"f": "02", "c": "GRUPO B", "t": "409"}, {"f": "02", "c": "Total", "t": "702"},
       {"f": "Total", "c": "MES", "t": "Total"}, {"f": "Total", "c": "GRUPO A", "t": "584"}, {"f": "Total", "c": "GRUPO B", "t": "844"}, {"f": "Total", "c": "Total", "t": "1428"}
      ]},
      "layer": [
       {"transform": [{"filter": "datum.f == '02' && datum.c == 'MES'"}], "mark": {"type": "rect", "color": "#EAEAEA"},
        "encoding": {"y": {"field": "f", "type": "nominal", "scale": {"domain": ["h", "01", "02", "Total"], "paddingInner": 0, "paddingOuter": 0}, "axis": null}}},
       {"transform": [{"filter": "datum.f == 'h' && datum.c == 'MES'"}], "mark": {"type": "rule", "color": "#6CB6F0", "strokeWidth": 1.2},
        "encoding": {"y": {"field": "f", "type": "nominal", "bandPosition": 0.86, "scale": {"domain": ["h", "01", "02", "Total"], "paddingInner": 0, "paddingOuter": 0}, "axis": null}}},
       {"transform": [{"filter": "datum.f == 'h' && datum.c == 'MES'"}], "mark": {"type": "rule", "color": "#A9D1F3", "strokeWidth": 1},
        "encoding": {
         "x": {"datum": "GRUPO A", "type": "nominal", "bandPosition": 0, "scale": {"domain": ["GRUPO A", "GRUPO B"], "range": [24, 103], "paddingInner": 0, "paddingOuter": 0}, "axis": null},
         "y": {"datum": "01", "type": "nominal", "bandPosition": 0, "scale": {"domain": ["h", "01", "02", "Total"], "paddingInner": 0, "paddingOuter": 0}, "axis": null},
         "y2": {"datum": "Total", "bandPosition": 1}}},
       {"transform": [{"filter": "datum.f == 'h' && datum.c == 'MES'"}], "mark": {"type": "text", "align": "left", "dx": -13.3, "dy": -5.2, "fontSize": 7.5, "color": "#3B3A39"},
        "encoding": {
         "x": {"datum": "GRUPO A", "type": "nominal", "bandPosition": 0, "scale": {"domain": ["GRUPO A", "GRUPO B"], "range": [24, 103], "paddingInner": 0, "paddingOuter": 0}, "axis": null},
         "y": {"field": "f", "type": "nominal", "scale": {"domain": ["h", "01", "02", "Total"], "paddingInner": 0, "paddingOuter": 0}, "axis": null},
         "text": {"field": "t"}}},
       {"transform": [{"filter": "datum.f == 'h' && datum.c != 'MES' && datum.c != 'Total'"}], "mark": {"type": "text", "align": "left", "dx": 5, "dy": -5.2, "fontSize": 7.5, "color": "#3B3A39"},
        "encoding": {
         "x": {"field": "c", "type": "nominal", "bandPosition": 0, "scale": {"domain": ["GRUPO A", "GRUPO B"], "range": [24, 103], "paddingInner": 0, "paddingOuter": 0}, "axis": null},
         "y": {"field": "f", "type": "nominal", "scale": {"domain": ["h", "01", "02", "Total"], "paddingInner": 0, "paddingOuter": 0}, "axis": null},
         "text": {"field": "t"}}},
       {"transform": [{"filter": "datum.f == 'h' && datum.c == 'Total'"}], "mark": {"type": "text", "align": "left", "dx": 3, "dy": -5.2, "fontSize": 7.5, "fontWeight": "bold", "color": "#252423", "clip": true},
        "encoding": {
         "x": {"datum": "GRUPO B", "type": "nominal", "bandPosition": 1, "scale": {"domain": ["GRUPO A", "GRUPO B"], "range": [24, 103], "paddingInner": 0, "paddingOuter": 0}, "axis": null},
         "y": {"field": "f", "type": "nominal", "scale": {"domain": ["h", "01", "02", "Total"], "paddingInner": 0, "paddingOuter": 0}, "axis": null},
         "text": {"field": "t"}}},
       {"transform": [{"filter": "datum.f != 'h' && datum.f != 'Total' && datum.c == 'MES'"}], "mark": {"type": "text", "align": "left", "dx": -20.7, "fontSize": 7.5, "color": "#252423"},
        "encoding": {
         "x": {"datum": "GRUPO A", "type": "nominal", "bandPosition": 0, "scale": {"domain": ["GRUPO A", "GRUPO B"], "range": [24, 103], "paddingInner": 0, "paddingOuter": 0}, "axis": null},
         "y": {"field": "f", "type": "nominal", "scale": {"domain": ["h", "01", "02", "Total"], "paddingInner": 0, "paddingOuter": 0}, "axis": null},
         "text": {"field": "t"}}},
       {"transform": [{"filter": "datum.f == 'Total' && datum.c == 'MES'"}], "mark": {"type": "text", "align": "left", "dx": -20.7, "fontSize": 7.5, "fontWeight": "bold", "color": "#252423"},
        "encoding": {
         "x": {"datum": "GRUPO A", "type": "nominal", "bandPosition": 0, "scale": {"domain": ["GRUPO A", "GRUPO B"], "range": [24, 103], "paddingInner": 0, "paddingOuter": 0}, "axis": null},
         "y": {"field": "f", "type": "nominal", "scale": {"domain": ["h", "01", "02", "Total"], "paddingInner": 0, "paddingOuter": 0}, "axis": null},
         "text": {"field": "t"}}},
       {"transform": [{"filter": "datum.f != 'h' && datum.f != 'Total' && datum.c != 'MES' && datum.c != 'Total'"}], "mark": {"type": "text", "align": "right", "dx": -3.7, "fontSize": 7.5, "color": "#252423"},
        "encoding": {
         "x": {"field": "c", "type": "nominal", "bandPosition": 1, "scale": {"domain": ["GRUPO A", "GRUPO B"], "range": [24, 103], "paddingInner": 0, "paddingOuter": 0}, "axis": null},
         "y": {"field": "f", "type": "nominal", "scale": {"domain": ["h", "01", "02", "Total"], "paddingInner": 0, "paddingOuter": 0}, "axis": null},
         "text": {"field": "t"}}},
       {"transform": [{"filter": "datum.f == 'Total' && datum.c != 'MES' && datum.c != 'Total'"}], "mark": {"type": "text", "align": "right", "dx": -3.7, "fontSize": 7.5, "fontWeight": "bold", "color": "#252423"},
        "encoding": {
         "x": {"field": "c", "type": "nominal", "bandPosition": 1, "scale": {"domain": ["GRUPO A", "GRUPO B"], "range": [24, 103], "paddingInner": 0, "paddingOuter": 0}, "axis": null},
         "y": {"field": "f", "type": "nominal", "scale": {"domain": ["h", "01", "02", "Total"], "paddingInner": 0, "paddingOuter": 0}, "axis": null},
         "text": {"field": "t"}}},
       {"transform": [{"filter": "datum.f != 'h' && datum.c == 'Total'"}], "mark": {"type": "text", "align": "right", "dx": 25.7, "fontSize": 7.5, "fontWeight": "bold", "color": "#252423", "clip": true},
        "encoding": {
         "x": {"datum": "GRUPO B", "type": "nominal", "bandPosition": 1, "scale": {"domain": ["GRUPO A", "GRUPO B"], "range": [24, 103], "paddingInner": 0, "paddingOuter": 0}, "axis": null},
         "y": {"field": "f", "type": "nominal", "scale": {"domain": ["h", "01", "02", "Total"], "paddingInner": 0, "paddingOuter": 0}, "axis": null},
         "text": {"field": "t"}}}
      ]
     }
    ]},
    {"width": 1, "height": 21, "data": {"values": []}, "mark": "text", "encoding": {"text": {"value": ""}}},
    {"spacing": 0, "hconcat": [
     {"width": 174, "height": 1, "data": {"values": []}, "mark": "text", "encoding": {"text": {"value": ""}}},
     {"width": 55, "height": 5, "view": {"fill": "#C8C6C4"}, "data": {"values": []}, "mark": "text", "encoding": {"text": {"value": ""}}}
    ]}
   ]},
   {"spacing": 0, "resolve": {"scale": {"color": "independent"}}, "vconcat": [
    {"title": {"text": "Vista de honorarios ambulatorios por grupo", "offset": 5.5, "dx": 1}, "spacing": 0, "hconcat": [
     {"width": 1, "height": 1, "data": {"values": []}, "mark": "text", "encoding": {"text": {"value": ""}}},
     {
     "width": 292, "height": 63,
     "data": {"values": [
      {"MES": "02", "GRUPO": "GRUPO A", "n": 1282}, {"MES": "01", "GRUPO": "GRUPO A", "n": 1208},
      {"MES": "02", "GRUPO": "GRUPO B", "n": 1370}, {"MES": "01", "GRUPO": "GRUPO B", "n": 1314}
     ]},
     "encoding": {
      "x": {"field": "MES", "type": "ordinal", "sort": ["02", "01"], "title": "MES", "scale": {"type": "point", "padding": 0.362, "align": 0.569}, "axis": {"labelAngle": 0, "labelPadding": 4, "titlePadding": 4, "labelFontSize": 9, "titleFont": "Roboto", "titleFontWeight": "bold", "titleFontSize": 8.5, "titleColor": "#3B3A39"}},
      "y": {"field": "n", "type": "quantitative", "title": "Recuento de PAC...", "scale": {"domain": [1198, 1400], "nice": false, "zero": false}, "axis": {"values": [1200, 1300, 1400], "format": ",.0f", "grid": true, "labelPadding": 3, "titlePadding": 2.3, "labelFontSize": 9, "titleFontSize": 7.5}}
     },
     "layer": [
      {"transform": [{"filter": "datum.GRUPO == 'GRUPO B'"}], "mark": {"type": "area", "color": "#F2C1C5", "opacity": 1}, "encoding": {"y2": {"datum": 1198}}},
      {"transform": [{"filter": "datum.GRUPO == 'GRUPO A'"}], "mark": {"type": "area", "color": "#B29AB4", "opacity": 1}, "encoding": {"y2": {"datum": 1198}}},
      {"mark": {"type": "line", "strokeWidth": 2.5},
       "encoding": {"color": {"field": "GRUPO", "type": "nominal", "scale": {"domain": ["GRUPO A", "GRUPO B"], "range": ["#1267C1", "#E0666F"]}, "legend": {"title": "GRUPO", "offset": 2.8, "symbolSize": 12, "symbolStrokeWidth": 4.5}}}},
      {"transform": [{"filter": "datum.GRUPO == 'GRUPO B'"}], "mark": {"type": "text", "dy": 11, "fontSize": 9, "color": "#605E5C"}, "encoding": {"text": {"field": "n", "type": "quantitative", "format": "d"}}},
      {"transform": [{"filter": "datum.GRUPO == 'GRUPO A'"}], "mark": {"type": "text", "dy": -8.5, "fontSize": 9, "color": "#605E5C"}, "encoding": {"text": {"field": "n", "type": "quantitative", "format": "d"}}}
     ]
    }]},
    {"width": 1, "height": 8.5, "data": {"values": []}, "mark": "text", "encoding": {"text": {"value": ""}}},
    {"spacing": 0, "hconcat": [
     {
      "width": 181, "height": 55.4,
      "data": {"values": [
       {"f": "h", "c": "MES", "t": "MES"}, {"f": "h", "c": "GRUPO A", "t": "GRUPO A"}, {"f": "h", "c": "GRUPO B", "t": "GRUPO B"}, {"f": "h", "c": "Total", "t": "Total"},
       {"f": "02", "c": "MES", "t": "02"}, {"f": "02", "c": "GRUPO A", "t": "S/56,882"}, {"f": "02", "c": "GRUPO B", "t": "S/62,357"}, {"f": "02", "c": "Total", "t": "S/119,239"},
       {"f": "01", "c": "MES", "t": "01"}, {"f": "01", "c": "GRUPO A", "t": "S/52,575"}, {"f": "01", "c": "GRUPO B", "t": "S/58,965"}, {"f": "01", "c": "Total", "t": "S/111,540"},
       {"f": "Total", "c": "MES", "t": "Total"}, {"f": "Total", "c": "GRUPO A", "t": "S/109,457"}, {"f": "Total", "c": "GRUPO B", "t": "S/121,322"}, {"f": "Total", "c": "Total", "t": "S/230,779"}
      ]},
      "layer": [
       {"transform": [{"filter": "datum.f == '01' && datum.c == 'MES'"}], "mark": {"type": "rect", "color": "#EAEAEA"},
        "encoding": {"y": {"field": "f", "type": "nominal", "scale": {"domain": ["h", "02", "01", "Total"], "paddingInner": 0, "paddingOuter": 0}, "axis": null}}},
       {"transform": [{"filter": "datum.f == 'h' && datum.c == 'MES'"}], "mark": {"type": "rule", "color": "#6CB6F0", "strokeWidth": 1.2},
        "encoding": {"y": {"field": "f", "type": "nominal", "bandPosition": 0.88, "scale": {"domain": ["h", "02", "01", "Total"], "paddingInner": 0, "paddingOuter": 0}, "axis": null}}},
       {"transform": [{"filter": "datum.f == 'h' && datum.c == 'MES'"}], "mark": {"type": "rule", "color": "#A9D1F3", "strokeWidth": 1},
        "encoding": {
         "x": {"datum": "GRUPO A", "type": "nominal", "bandPosition": 0, "scale": {"domain": ["GRUPO A", "GRUPO B", "Total"], "range": [31.5, 180.6], "paddingInner": 0, "paddingOuter": 0}, "axis": null},
         "y": {"datum": "02", "type": "nominal", "bandPosition": 0, "scale": {"domain": ["h", "02", "01", "Total"], "paddingInner": 0, "paddingOuter": 0}, "axis": null},
         "y2": {"datum": "Total", "bandPosition": 1}}},
       {"transform": [{"filter": "datum.f == 'h' && datum.c == 'MES'"}], "mark": {"type": "text", "align": "left", "dx": -22.8, "dy": -5.5, "fontSize": 9, "color": "#3B3A39"},
        "encoding": {
         "x": {"datum": "GRUPO A", "type": "nominal", "bandPosition": 0, "scale": {"domain": ["GRUPO A", "GRUPO B", "Total"], "range": [31.5, 180.6], "paddingInner": 0, "paddingOuter": 0}, "axis": null},
         "y": {"field": "f", "type": "nominal", "scale": {"domain": ["h", "02", "01", "Total"], "paddingInner": 0, "paddingOuter": 0}, "axis": null},
         "text": {"field": "t"}}},
       {"transform": [{"filter": "datum.f == 'h' && datum.c != 'MES' && datum.c != 'Total'"}], "mark": {"type": "text", "align": "left", "dx": 3, "dy": -5.5, "fontSize": 9, "color": "#3B3A39"},
        "encoding": {
         "x": {"field": "c", "type": "nominal", "bandPosition": 0, "scale": {"domain": ["GRUPO A", "GRUPO B", "Total"], "range": [31.5, 180.6], "paddingInner": 0, "paddingOuter": 0}, "axis": null},
         "y": {"field": "f", "type": "nominal", "scale": {"domain": ["h", "02", "01", "Total"], "paddingInner": 0, "paddingOuter": 0}, "axis": null},
         "text": {"field": "t"}}},
       {"transform": [{"filter": "datum.f == 'h' && datum.c == 'Total'"}], "mark": {"type": "text", "align": "left", "dx": 3, "dy": -5.5, "fontSize": 9, "fontWeight": "bold", "color": "#252423"},
        "encoding": {
         "x": {"field": "c", "type": "nominal", "bandPosition": 0, "scale": {"domain": ["GRUPO A", "GRUPO B", "Total"], "range": [31.5, 180.6], "paddingInner": 0, "paddingOuter": 0}, "axis": null},
         "y": {"field": "f", "type": "nominal", "scale": {"domain": ["h", "02", "01", "Total"], "paddingInner": 0, "paddingOuter": 0}, "axis": null},
         "text": {"field": "t"}}},
       {"transform": [{"filter": "datum.f != 'h' && datum.f != 'Total' && datum.c == 'MES'"}], "mark": {"type": "text", "align": "left", "dx": -22.8, "fontSize": 9, "color": "#252423"},
        "encoding": {
         "x": {"datum": "GRUPO A", "type": "nominal", "bandPosition": 0, "scale": {"domain": ["GRUPO A", "GRUPO B", "Total"], "range": [31.5, 180.6], "paddingInner": 0, "paddingOuter": 0}, "axis": null},
         "y": {"field": "f", "type": "nominal", "scale": {"domain": ["h", "02", "01", "Total"], "paddingInner": 0, "paddingOuter": 0}, "axis": null},
         "text": {"field": "t"}}},
       {"transform": [{"filter": "datum.f == 'Total' && datum.c == 'MES'"}], "mark": {"type": "text", "align": "left", "dx": -22.8, "fontSize": 9, "fontWeight": "bold", "color": "#252423"},
        "encoding": {
         "x": {"datum": "GRUPO A", "type": "nominal", "bandPosition": 0, "scale": {"domain": ["GRUPO A", "GRUPO B", "Total"], "range": [31.5, 180.6], "paddingInner": 0, "paddingOuter": 0}, "axis": null},
         "y": {"field": "f", "type": "nominal", "scale": {"domain": ["h", "02", "01", "Total"], "paddingInner": 0, "paddingOuter": 0}, "axis": null},
         "text": {"field": "t"}}},
       {"transform": [{"filter": "datum.f != 'h' && datum.f != 'Total' && datum.c != 'MES' && datum.c != 'Total'"}], "mark": {"type": "text", "align": "right", "dx": -3.5, "fontSize": 9, "color": "#252423"},
        "encoding": {
         "x": {"field": "c", "type": "nominal", "bandPosition": 1, "scale": {"domain": ["GRUPO A", "GRUPO B", "Total"], "range": [31.5, 180.6], "paddingInner": 0, "paddingOuter": 0}, "axis": null},
         "y": {"field": "f", "type": "nominal", "scale": {"domain": ["h", "02", "01", "Total"], "paddingInner": 0, "paddingOuter": 0}, "axis": null},
         "text": {"field": "t"}}},
       {"transform": [{"filter": "datum.f != 'h' && datum.c != 'MES' && (datum.f == 'Total' || datum.c == 'Total')"}], "mark": {"type": "text", "align": "right", "dx": -3.5, "fontSize": 9, "fontWeight": "bold", "color": "#252423"},
        "encoding": {
         "x": {"field": "c", "type": "nominal", "bandPosition": 1, "scale": {"domain": ["GRUPO A", "GRUPO B", "Total"], "range": [31.5, 180.6], "paddingInner": 0, "paddingOuter": 0}, "axis": null},
         "y": {"field": "f", "type": "nominal", "scale": {"domain": ["h", "02", "01", "Total"], "paddingInner": 0, "paddingOuter": 0}, "axis": null},
         "text": {"field": "t"}}}
      ]
     },
     {"width": 1, "height": 1, "data": {"values": []}, "mark": "text", "encoding": {"text": {"value": ""}}},
     {
      "width": 146, "height": 55.4,
      "data": {"values": [
       {"f": "h", "c": "MES", "t": "MES"}, {"f": "h", "c": "GRUPO A", "t": "GRUPO A"}, {"f": "h", "c": "GRUPO B", "t": "GRUPO B"}, {"f": "h", "c": "Total", "t": "Total"},
       {"f": "02", "c": "MES", "t": "02"}, {"f": "02", "c": "GRUPO A", "t": "1282"}, {"f": "02", "c": "GRUPO B", "t": "1370"}, {"f": "02", "c": "Total", "t": "2652"},
       {"f": "01", "c": "MES", "t": "01"}, {"f": "01", "c": "GRUPO A", "t": "1208"}, {"f": "01", "c": "GRUPO B", "t": "1314"}, {"f": "01", "c": "Total", "t": "2522"},
       {"f": "Total", "c": "MES", "t": "Total"}, {"f": "Total", "c": "GRUPO A", "t": "2490"}, {"f": "Total", "c": "GRUPO B", "t": "2684"}, {"f": "Total", "c": "Total", "t": "5174"}
      ]},
      "layer": [
       {"transform": [{"filter": "datum.f == '01' && datum.c == 'MES'"}], "mark": {"type": "rect", "color": "#EAEAEA"},
        "encoding": {"y": {"field": "f", "type": "nominal", "scale": {"domain": ["h", "02", "01", "Total"], "paddingInner": 0, "paddingOuter": 0}, "axis": null}}},
       {"transform": [{"filter": "datum.f == 'h' && datum.c == 'MES'"}], "mark": {"type": "rule", "color": "#6CB6F0", "strokeWidth": 1.2},
        "encoding": {"y": {"field": "f", "type": "nominal", "bandPosition": 0.88, "scale": {"domain": ["h", "02", "01", "Total"], "paddingInner": 0, "paddingOuter": 0}, "axis": null}}},
       {"transform": [{"filter": "datum.f == 'h' && datum.c == 'MES'"}], "mark": {"type": "rule", "color": "#A9D1F3", "strokeWidth": 1},
        "encoding": {
         "x": {"datum": "GRUPO A", "type": "nominal", "bandPosition": 0, "scale": {"domain": ["GRUPO A", "GRUPO B"], "range": [29, 123], "paddingInner": 0, "paddingOuter": 0}, "axis": null},
         "y": {"datum": "02", "type": "nominal", "bandPosition": 0, "scale": {"domain": ["h", "02", "01", "Total"], "paddingInner": 0, "paddingOuter": 0}, "axis": null},
         "y2": {"datum": "Total", "bandPosition": 1}}},
       {"transform": [{"filter": "datum.f == 'h' && datum.c == 'MES'"}], "mark": {"type": "text", "align": "left", "dx": -20.4, "dy": -5.5, "fontSize": 9, "color": "#3B3A39"},
        "encoding": {
         "x": {"datum": "GRUPO A", "type": "nominal", "bandPosition": 0, "scale": {"domain": ["GRUPO A", "GRUPO B"], "range": [29, 123], "paddingInner": 0, "paddingOuter": 0}, "axis": null},
         "y": {"field": "f", "type": "nominal", "scale": {"domain": ["h", "02", "01", "Total"], "paddingInner": 0, "paddingOuter": 0}, "axis": null},
         "text": {"field": "t"}}},
       {"transform": [{"filter": "datum.f == 'h' && datum.c != 'MES' && datum.c != 'Total'"}], "mark": {"type": "text", "align": "left", "dx": 4, "dy": -5.5, "fontSize": 9, "color": "#3B3A39"},
        "encoding": {
         "x": {"field": "c", "type": "nominal", "bandPosition": 0, "scale": {"domain": ["GRUPO A", "GRUPO B"], "range": [29, 123], "paddingInner": 0, "paddingOuter": 0}, "axis": null},
         "y": {"field": "f", "type": "nominal", "scale": {"domain": ["h", "02", "01", "Total"], "paddingInner": 0, "paddingOuter": 0}, "axis": null},
         "text": {"field": "t"}}},
       {"transform": [{"filter": "datum.f == 'h' && datum.c == 'Total'"}], "mark": {"type": "text", "align": "left", "dx": 2, "dy": -5.5, "fontSize": 9, "fontWeight": "bold", "color": "#252423", "clip": true},
        "encoding": {
         "x": {"datum": "GRUPO B", "type": "nominal", "bandPosition": 1, "scale": {"domain": ["GRUPO A", "GRUPO B"], "range": [29, 123], "paddingInner": 0, "paddingOuter": 0}, "axis": null},
         "y": {"field": "f", "type": "nominal", "scale": {"domain": ["h", "02", "01", "Total"], "paddingInner": 0, "paddingOuter": 0}, "axis": null},
         "text": {"field": "t"}}},
       {"transform": [{"filter": "datum.f != 'h' && datum.f != 'Total' && datum.c == 'MES'"}], "mark": {"type": "text", "align": "left", "dx": -22.2, "fontSize": 9, "color": "#252423"},
        "encoding": {
         "x": {"datum": "GRUPO A", "type": "nominal", "bandPosition": 0, "scale": {"domain": ["GRUPO A", "GRUPO B"], "range": [29, 123], "paddingInner": 0, "paddingOuter": 0}, "axis": null},
         "y": {"field": "f", "type": "nominal", "scale": {"domain": ["h", "02", "01", "Total"], "paddingInner": 0, "paddingOuter": 0}, "axis": null},
         "text": {"field": "t"}}},
       {"transform": [{"filter": "datum.f == 'Total' && datum.c == 'MES'"}], "mark": {"type": "text", "align": "left", "dx": -22.2, "fontSize": 9, "fontWeight": "bold", "color": "#252423"},
        "encoding": {
         "x": {"datum": "GRUPO A", "type": "nominal", "bandPosition": 0, "scale": {"domain": ["GRUPO A", "GRUPO B"], "range": [29, 123], "paddingInner": 0, "paddingOuter": 0}, "axis": null},
         "y": {"field": "f", "type": "nominal", "scale": {"domain": ["h", "02", "01", "Total"], "paddingInner": 0, "paddingOuter": 0}, "axis": null},
         "text": {"field": "t"}}},
       {"transform": [{"filter": "datum.f != 'h' && datum.f != 'Total' && datum.c != 'MES' && datum.c != 'Total'"}], "mark": {"type": "text", "align": "right", "dx": -3, "fontSize": 9, "color": "#252423"},
        "encoding": {
         "x": {"field": "c", "type": "nominal", "bandPosition": 1, "scale": {"domain": ["GRUPO A", "GRUPO B"], "range": [29, 123], "paddingInner": 0, "paddingOuter": 0}, "axis": null},
         "y": {"field": "f", "type": "nominal", "scale": {"domain": ["h", "02", "01", "Total"], "paddingInner": 0, "paddingOuter": 0}, "axis": null},
         "text": {"field": "t"}}},
       {"transform": [{"filter": "datum.f == 'Total' && datum.c != 'MES' && datum.c != 'Total'"}], "mark": {"type": "text", "align": "right", "dx": -3, "fontSize": 9, "fontWeight": "bold", "color": "#252423"},
        "encoding": {
         "x": {"field": "c", "type": "nominal", "bandPosition": 1, "scale": {"domain": ["GRUPO A", "GRUPO B"], "range": [29, 123], "paddingInner": 0, "paddingOuter": 0}, "axis": null},
         "y": {"field": "f", "type": "nominal", "scale": {"domain": ["h", "02", "01", "Total"], "paddingInner": 0, "paddingOuter": 0}, "axis": null},
         "text": {"field": "t"}}},
       {"transform": [{"filter": "datum.f != 'h' && datum.c == 'Total'"}], "mark": {"type": "text", "align": "right", "dx": 26, "fontSize": 9, "fontWeight": "bold", "color": "#252423", "clip": true},
        "encoding": {
         "x": {"datum": "GRUPO B", "type": "nominal", "bandPosition": 1, "scale": {"domain": ["GRUPO A", "GRUPO B"], "range": [29, 123], "paddingInner": 0, "paddingOuter": 0}, "axis": null},
         "y": {"field": "f", "type": "nominal", "scale": {"domain": ["h", "02", "01", "Total"], "paddingInner": 0, "paddingOuter": 0}, "axis": null},
         "text": {"field": "t"}}}
      ]
     }
    ]},
    {"width": 1, "height": 15, "data": {"values": []}, "mark": "text", "encoding": {"text": {"value": ""}}},
    {"spacing": 0, "hconcat": [
     {"width": 27, "height": 1, "data": {"values": []}, "mark": "text", "encoding": {"text": {"value": ""}}},
     {"width": 127, "height": 4.5, "view": {"fill": "#C8C6C4"}, "data": {"values": []}, "mark": "text", "encoding": {"text": {"value": ""}}}
    ]},
    {"width": 1, "height": 6.1, "data": {"values": []}, "mark": "text", "encoding": {"text": {"value": ""}}},
    {"title": {"text": "Vista por seguro y grupo", "offset": 7.5, "dx": 4}, "spacing": 0, "hconcat": [
     {"width": 4, "height": 1, "data": {"values": []}, "mark": "text", "encoding": {"text": {"value": ""}}},
     {"hconcat": [{
      "width": 254, "height": 171,
      "data": {"values": [
       {"SEGURO": "PLANSALUD CRP", "GRUPO": "GRUPO A", "v": 72894}, {"SEGURO": "PLANSALUD CRP", "GRUPO": "GRUPO B", "v": 71838},
       {"SEGURO": "EPS-PACIFICO", "GRUPO": "GRUPO A", "v": 59364}, {"SEGURO": "EPS-PACIFICO", "GRUPO": "GRUPO B", "v": 64940},
       {"SEGURO": "EPS-RIMAC", "GRUPO": "GRUPO A", "v": 57525}, {"SEGURO": "EPS-RIMAC", "GRUPO": "GRUPO B", "v": 49356},
       {"SEGURO": "MAPFRE PERU EPS", "GRUPO": "GRUPO A", "v": 15400}, {"SEGURO": "MAPFRE PERU EPS", "GRUPO": "GRUPO B", "v": 33857},
       {"SEGURO": "RIMAC SEGUROS", "GRUPO": "GRUPO A", "v": 23942}, {"SEGURO": "RIMAC SEGUROS", "GRUPO": "GRUPO B", "v": 22300},
       {"SEGURO": "PACIFICO SEGURO", "GRUPO": "GRUPO A", "v": 20521}, {"SEGURO": "PACIFICO SEGURO", "GRUPO": "GRUPO B", "v": 20273},
       {"SEGURO": "LA POSITIVA EPS", "GRUPO": "GRUPO A", "v": 6800}, {"SEGURO": "LA POSITIVA EPS", "GRUPO": "GRUPO B", "v": 8800},
       {"SEGURO": "MAPFRE PERU SEG", "GRUPO": "GRUPO A", "v": 7400}, {"SEGURO": "MAPFRE PERU SEG", "GRUPO": "GRUPO B", "v": 7300},
       {"SEGURO": "POSITIVA", "GRUPO": "GRUPO A", "v": 6450}, {"SEGURO": "POSITIVA", "GRUPO": "GRUPO B", "v": 2350},
       {"SEGURO": "PETROPERU S.A.", "GRUPO": "GRUPO A", "v": 3900}, {"SEGURO": "PETROPERU S.A.", "GRUPO": "GRUPO B", "v": 3500},
       {"SEGURO": "SANITAS PERU SA", "GRUPO": "GRUPO A", "v": 1950}, {"SEGURO": "SANITAS PERU SA", "GRUPO": "GRUPO B", "v": 1950},
       {"SEGURO": "CHUBB SEGUROS", "GRUPO": "GRUPO A", "v": 2900}
      ]},
      "layer": [
       {"mark": {"type": "bar"},
        "encoding": {
         "y": {"field": "SEGURO", "type": "nominal", "sort": ["PLANSALUD CRP", "EPS-PACIFICO", "EPS-RIMAC", "MAPFRE PERU EPS", "RIMAC SEGUROS", "PACIFICO SEGURO", "LA POSITIVA EPS", "MAPFRE PERU SEG", "POSITIVA", "PETROPERU S.A.", "SANITAS PERU SA", "CHUBB SEGUROS"], "title": null, "scale": {"paddingInner": 0.04, "paddingOuter": 0}, "axis": {"labelPadding": 6.7, "labelFontSize": 7.5}},
         "x": {"field": "v", "type": "quantitative", "stack": "zero", "title": "SEGURO", "scale": {"domain": [0, 147800], "nice": false}, "axis": {"labels": false, "grid": false, "titlePadding": 5.7, "titleFont": "Roboto", "titleFontWeight": "bold", "titleFontSize": 11, "titleColor": "#3B3A39"}},
         "color": {"field": "GRUPO", "type": "nominal", "scale": {"domain": ["GRUPO A", "GRUPO B"], "range": ["#118DFF", "#12239E"]}, "legend": {"title": "GRUPO", "offset": 18.4}},
         "order": {"field": "GRUPO", "type": "nominal", "sort": "ascending"}
        }},
       {"transform": [
         {"stack": "v", "groupby": ["SEGURO"], "sort": [{"field": "GRUPO", "order": "ascending"}], "as": ["v0", "v1"]},
         {"fold": ["v0", "v1"], "as": ["k", "vv"]},
         {"aggregate": [{"op": "mean", "field": "vv", "as": "vm"}], "groupby": ["SEGURO", "GRUPO", "v"]},
         {"filter": "datum.v >= 20000"}
        ],
        "mark": {"type": "text", "color": "#FFFFFF", "fontSize": 8.5},
        "encoding": {
         "y": {"field": "SEGURO", "type": "nominal", "sort": ["PLANSALUD CRP", "EPS-PACIFICO", "EPS-RIMAC", "MAPFRE PERU EPS", "RIMAC SEGUROS", "PACIFICO SEGURO", "LA POSITIVA EPS", "MAPFRE PERU SEG", "POSITIVA", "PETROPERU S.A.", "SANITAS PERU SA", "CHUBB SEGUROS"], "title": null},
         "x": {"field": "vm", "type": "quantitative", "title": "SEGURO", "scale": {"domain": [0, 147800], "nice": false}},
         "text": {"field": "v", "type": "quantitative", "format": "$,.0f"}
        }}
      ]
     }]}
    ]}
   ]}
  ]}
 ]}
]
}
